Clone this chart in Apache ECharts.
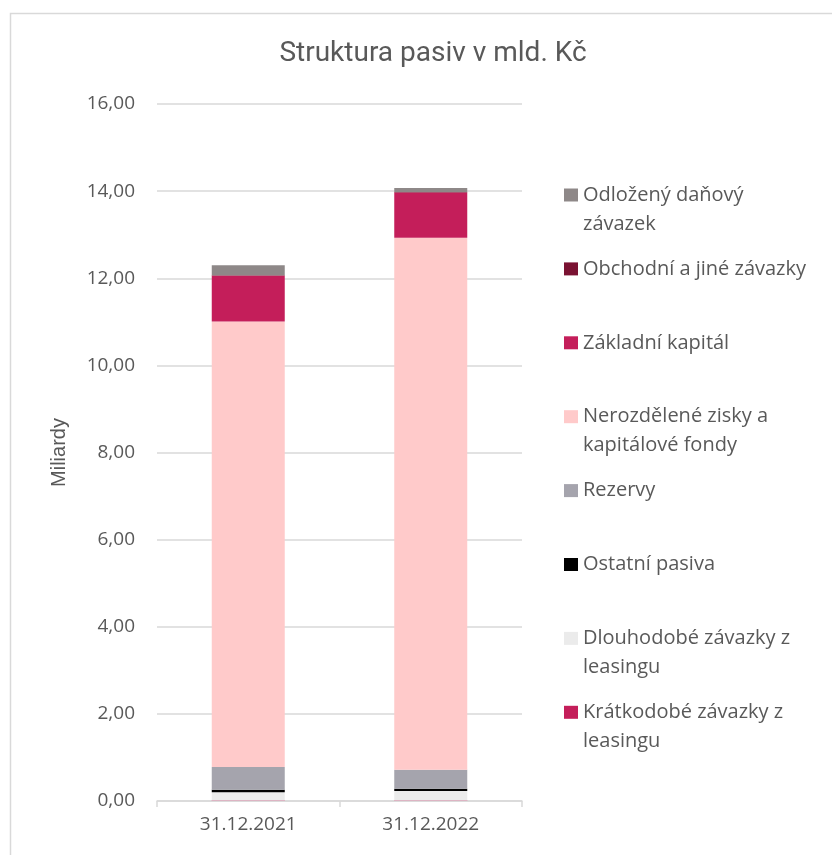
<!DOCTYPE html>
<html>
<head>
<meta charset="utf-8">
<script src="https://cdn.jsdelivr.net/npm/echarts@6/dist/echarts.min.js"></script>
<style>
html,body{margin:0;padding:0;background:#fff;}
#c{width:832px;height:855px;}
</style>
</head>
<body>
<div id="c"></div>
<script>
const categories = ['31.12.2021', '31.12.2022'];
// stacked bottom-to-top
const seriesNames = [
  'Krátkodobé závazky z leasingu',
  'Dlouhodobé závazky z leasingu',
  'Ostatní pasiva',
  'Rezervy',
  'Nerozdělené zisky a kapitálové fondy',
  'Základní kapitál',
  'Obchodní a jiné závazky',
  'Odložený daňový závazek'
];
const kratkodobe = [0.01, 0.01];
const dlouhodobe = [0.19, 0.22];
const ostatni = [0.06, 0.05];
const rezervy = [0.52, 0.44];
const nerozdelene = [10.23, 12.21];
const zakladni = [1.05, 1.04];
const obchodni = [0.01, 0.01];
const odlozeny = [0.23, 0.09];
const yTicks = [0, 2, 4, 6, 8, 10, 12, 14, 16];

const seriesData = [kratkodobe, dlouhodobe, ostatni, rezervy, nerozdelene, zakladni, obchodni, odlozeny];
const colors = ['#C41E5A', '#EBEBEB', '#000000', '#A5A4AD', '#FFCACA', '#C41E5A', '#7A1232', '#8E8888'];
const legendLabels = {
  'Odložený daňový závazek': '\nOdložený daňový\nzávazek',
  'Obchodní a jiné závazky': 'Obchodní a jiné závazky',
  'Základní kapitál': 'Základní kapitál',
  'Nerozdělené zisky a kapitálové fondy': '\nNerozdělené zisky a\nkapitálové fondy',
  'Rezervy': 'Rezervy',
  'Ostatní pasiva': 'Ostatní pasiva',
  'Dlouhodobé závazky z leasingu': '\nDlouhodobé závazky z\nleasingu',
  'Krátkodobé závazky z leasingu': '\nKrátkodobé závazky z\nleasingu'
};
const legendOrder = seriesNames.slice().reverse();
const LH = 29;
const legends = legendOrder.map((name, i) => {
  const cy = 195 + i * 73.9;
  const multi = legendLabels[name].startsWith('\n');
  const h = multi ? 3 * LH : LH;
  return {
    data: [name],
    orient: 'vertical',
    left: 564,
    top: cy - h / 2,
    padding: 0,
    itemWidth: 14,
    itemHeight: 13,
    itemGap: 0,
    icon: 'rect',
    selectedMode: false,
    formatter: n => legendLabels[n],
    textStyle: { fontFamily: 'Open Sans', fontSize: 20, color: '#595959', lineHeight: LH, padding: [0, 0, 0, 0] }
  };
});

const chart = echarts.init(document.getElementById('c'));
chart.setOption({
  animation: false,
  backgroundColor: '#fff',
  title: {
    text: 'Struktura pasiv v mld. Kč',
    left: 428, textAlign: 'center', top: 35,
    textStyle: { fontFamily: 'Roboto', fontWeight: 'normal', fontSize: 28, color: '#595959' }
  },
  graphic: [{
    type: 'rect', shape: { x: 10.5, y: 13.5, width: 900, height: 900 },
    style: { fill: 'none', stroke: '#d9d9d9', lineWidth: 1.5 }, silent: true, z: -1
  }],
  legend: legends,
  grid: { left: 157, right: 310, top: 104, bottom: 54 },
  xAxis: {
    type: 'category', data: categories,
    axisLine: { lineStyle: { color: '#d9d9d9', width: 1.5 } },
    axisTick: { show: true, length: 6, lineStyle: { color: '#d9d9d9', width: 1.5 } },
    axisLabel: { fontFamily: 'Open Sans', fontSize: 19, color: '#595959', margin: 14 }
  },
  yAxis: {
    type: 'value', min: 0, max: 16, interval: 2,
    name: 'Miliardy', nameLocation: 'middle', nameGap: 88, nameRotate: 90,
    nameTextStyle: { fontFamily: 'Liberation Sans', fontSize: 20, color: '#595959' },
    axisLine: { show: false }, axisTick: { show: false },
    splitLine: { lineStyle: { color: '#d9d9d9', width: 1.5 } },
    axisLabel: {
      fontFamily: 'Open Sans', fontSize: 19, color: '#595959', margin: 22,
      formatter: v => yTicks.indexOf(v) >= 0 ? v.toFixed(2).replace('.', ',') : ''
    }
  },
  series: seriesNames.map((name, i) => ({
    name, type: 'bar', stack: 'total', data: seriesData[i],
    barWidth: 73,
    itemStyle: { color: colors[i] }
  }))
});
</script>
</body>
</html>
